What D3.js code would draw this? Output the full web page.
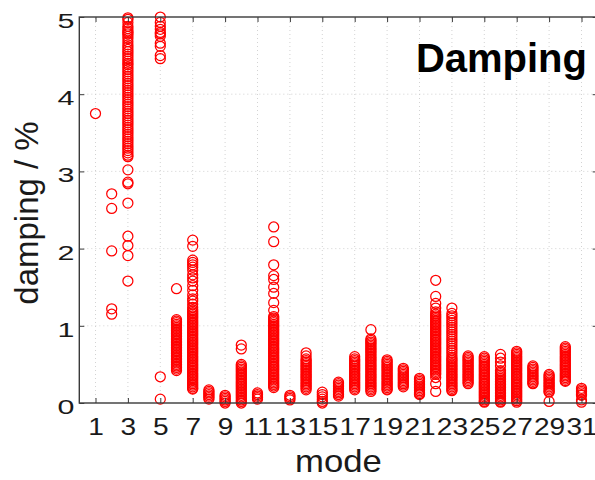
<!DOCTYPE html>
<html>
<head>
<meta charset="utf-8">
<script src="https://cdn.jsdelivr.net/npm/d3@7"></script>
<style>
  body { margin: 0; background: #fff; }
  svg { display: block; font-family: "Liberation Sans", Arial, sans-serif; }
</style>
</head>
<body>
<svg id="chart" width="595" height="480"></svg>
<script>
// mode numbers and the damping estimates (%) read off for each mode
var modes = [1, 2, 3, 4, 5, 6, 7, 8, 9, 10, 11, 12, 13, 14, 15, 16,
             17, 18, 19, 20, 21, 22, 23, 24, 25, 26, 27, 28, 29, 30, 31];

var dampingByMode = [
    [3.75],
    [2.71, 2.52, 1.97, 1.22, 1.15],
    [4.99, 4.97, 4.93, 4.88, 4.85, 4.82, 4.80, 4.78, 4.75, 4.72, 4.68, 4.64, 4.61, 4.58, 4.55,
     4.52, 4.49, 4.46, 4.43, 4.40, 4.38, 4.35, 4.32, 4.29, 4.26, 4.23, 4.20, 4.17, 4.14, 4.11,
     4.08, 4.05, 4.02, 3.99, 3.96, 3.93, 3.90, 3.87, 3.84, 3.81, 3.78, 3.75, 3.72, 3.69, 3.66,
     3.63, 3.60, 3.57, 3.54, 3.51, 3.48, 3.45, 3.42, 3.39, 3.36, 3.33, 3.30, 3.27, 3.24, 3.21,
     3.19, 3.02, 2.86, 2.84, 2.59, 2.16, 2.04, 1.91, 1.58],
    [],
    [5.00, 4.93, 4.88, 4.84, 4.80, 4.78, 4.75, 4.66, 4.62, 4.50, 4.46, 0.34, 0.05],
    [1.48, 1.08, 1.06, 1.04, 1.02, 1.00, 0.98, 0.96, 0.94, 0.92, 0.90, 0.88, 0.86, 0.84, 0.82,
     0.80, 0.78, 0.76, 0.74, 0.72, 0.70, 0.68, 0.66, 0.64, 0.62, 0.60, 0.58, 0.56, 0.54, 0.52,
     0.50, 0.48, 0.46, 0.44, 0.42],
    [2.11, 2.03, 1.85, 1.82, 1.79, 1.76, 1.72, 1.66, 1.62, 1.58, 1.52, 1.46, 1.40, 1.35, 1.32,
     1.28, 1.24, 1.21, 1.19, 1.17, 1.15, 1.13, 1.11, 1.09, 1.07, 1.05, 1.03, 1.01, 0.99, 0.97,
     0.95, 0.93, 0.91, 0.89, 0.87, 0.85, 0.83, 0.81, 0.79, 0.77, 0.75, 0.73, 0.71, 0.69, 0.67,
     0.65, 0.63, 0.61, 0.59, 0.57, 0.55, 0.53, 0.51, 0.49, 0.47, 0.45, 0.43, 0.41, 0.39, 0.37,
     0.35, 0.33, 0.31, 0.29, 0.27, 0.25, 0.23, 0.21, 0.19, 0.18],
    [0.17, 0.15, 0.13, 0.11, 0.09, 0.07, 0.05],
    [0.10, 0.08, 0.06, 0.04, 0.02, 0.00],
    [0.75, 0.70, 0.50, 0.48, 0.46, 0.44, 0.42, 0.40, 0.38, 0.36, 0.34, 0.32, 0.30, 0.28, 0.26,
     0.24, 0.22, 0.20, 0.18, 0.16, 0.14, 0.12, 0.10, 0.08, 0.06, 0.04, 0.02, 0.00],
    [0.13, 0.11, 0.09, 0.07, 0.05],
    [2.28, 2.09, 1.79, 1.65, 1.60, 1.50, 1.42, 1.30, 1.20, 1.12, 1.10, 1.08, 1.06, 1.04, 1.02,
     1.00, 0.98, 0.96, 0.94, 0.92, 0.90, 0.88, 0.86, 0.84, 0.82, 0.80, 0.78, 0.76, 0.74, 0.72,
     0.70, 0.68, 0.66, 0.64, 0.62, 0.60, 0.58, 0.56, 0.54, 0.52, 0.50, 0.48, 0.46, 0.44, 0.42,
     0.40, 0.38, 0.36, 0.34, 0.32, 0.30, 0.28, 0.26, 0.24, 0.22, 0.20],
    [0.10, 0.08, 0.06, 0.04],
    [0.65, 0.61, 0.57, 0.55, 0.53, 0.51, 0.49, 0.47, 0.45, 0.43, 0.41, 0.39, 0.37, 0.35, 0.33,
     0.31, 0.29, 0.27, 0.25, 0.23, 0.21, 0.19, 0.17],
    [0.14, 0.11, 0.08, 0.05, 0.02, 0.00],
    [0.27, 0.25, 0.23, 0.21, 0.19, 0.17, 0.15, 0.13, 0.11, 0.09],
    [0.60, 0.57, 0.55, 0.53, 0.51, 0.49, 0.47, 0.45, 0.43, 0.41, 0.39, 0.37, 0.35, 0.33, 0.31,
     0.29, 0.27, 0.25, 0.23, 0.21, 0.19, 0.17],
    [0.95, 0.83, 0.81, 0.79, 0.77, 0.75, 0.73, 0.71, 0.69, 0.67, 0.65, 0.63, 0.61, 0.59, 0.57,
     0.55, 0.53, 0.51, 0.49, 0.47, 0.45, 0.43, 0.41, 0.39, 0.37, 0.35, 0.33, 0.31, 0.29, 0.27,
     0.25, 0.23, 0.21, 0.19, 0.17, 0.15],
    [0.56, 0.54, 0.52, 0.50, 0.48, 0.46, 0.44, 0.42, 0.40, 0.38, 0.36, 0.34, 0.32, 0.30, 0.28,
     0.26, 0.24, 0.22, 0.20, 0.18, 0.17],
    [0.45, 0.43, 0.41, 0.39, 0.37, 0.35, 0.33, 0.31, 0.29, 0.27, 0.25, 0.23, 0.21],
    [0.32, 0.30, 0.28, 0.26, 0.24, 0.22, 0.20, 0.18, 0.16, 0.14, 0.12, 0.11],
    [1.59, 1.38, 1.29, 1.23, 1.18, 1.15, 1.13, 1.11, 1.09, 1.07, 1.05, 1.03, 1.01, 0.99, 0.97,
     0.95, 0.93, 0.91, 0.89, 0.87, 0.85, 0.83, 0.81, 0.79, 0.77, 0.75, 0.73, 0.71, 0.69, 0.67,
     0.65, 0.63, 0.61, 0.59, 0.57, 0.55, 0.53, 0.51, 0.49, 0.47, 0.45, 0.43, 0.41, 0.39, 0.37,
     0.33, 0.25, 0.15],
    [1.23, 1.16, 1.13, 1.10, 1.07, 1.04, 1.01, 0.98, 0.95, 0.92, 0.89, 0.86, 0.83, 0.80, 0.77,
     0.74, 0.71, 0.68, 0.65, 0.62, 0.59, 0.57, 0.55, 0.53, 0.51, 0.49, 0.47, 0.45, 0.43, 0.41,
     0.39, 0.37, 0.35, 0.33, 0.31, 0.29, 0.27, 0.25, 0.23, 0.21, 0.19, 0.17, 0.16],
    [0.61, 0.59, 0.57, 0.55, 0.53, 0.51, 0.49, 0.47, 0.45, 0.43, 0.41, 0.39, 0.37, 0.35, 0.33,
     0.31, 0.29, 0.27, 0.25],
    [0.60, 0.58, 0.56, 0.54, 0.52, 0.50, 0.48, 0.46, 0.44, 0.42, 0.40, 0.38, 0.36, 0.34, 0.32,
     0.30, 0.28, 0.26, 0.24, 0.22, 0.20, 0.18, 0.16, 0.14, 0.12, 0.10, 0.08, 0.06, 0.04, 0.02,
     0.01],
    [0.63, 0.58, 0.53, 0.48, 0.42, 0.40, 0.38, 0.36, 0.34, 0.32, 0.30, 0.28, 0.26, 0.24, 0.22,
     0.20, 0.18, 0.16, 0.14, 0.12, 0.10, 0.08, 0.06, 0.04, 0.02, 0.01],
    [0.67, 0.65, 0.63, 0.61, 0.59, 0.57, 0.55, 0.53, 0.51, 0.49, 0.47, 0.45, 0.43, 0.41, 0.39,
     0.37, 0.35, 0.33, 0.31, 0.29, 0.27, 0.25, 0.23, 0.21, 0.19, 0.17, 0.15, 0.13, 0.11, 0.09,
     0.07, 0.05, 0.03, 0.01],
    [0.48, 0.46, 0.44, 0.42, 0.40, 0.38, 0.36, 0.34, 0.32, 0.30, 0.28, 0.26, 0.25],
    [0.37, 0.35, 0.33, 0.31, 0.29, 0.27, 0.25, 0.23, 0.21, 0.19, 0.17, 0.15, 0.14, 0.02],
    [0.73, 0.71, 0.69, 0.67, 0.65, 0.63, 0.61, 0.59, 0.57, 0.55, 0.53, 0.51, 0.49, 0.47, 0.45,
     0.43, 0.41, 0.39, 0.37, 0.35, 0.33, 0.31, 0.29, 0.28],
    [0.19, 0.17, 0.15, 0.13, 0.11, 0.10, 0.04, 0.01]
];

var xTicks = [1, 3, 5, 7, 9, 11, 13, 15, 17, 19, 21, 23, 25, 27, 29, 31];
var yTicks = [0, 1, 2, 3, 4, 5];


var svg = d3.select("#chart");

var xScale = d3.scaleLinear().domain([0, 32]).range([79.3, 597.7]);
var yScale = d3.scaleLinear().domain([0, 5]).range([403, 17]);

var points = [];
modes.forEach(function (m, i) {
    dampingByMode[i].forEach(function (v) {
        points.push({ mode: m, damping: v });
    });
});

// dotted grid
var grid = svg.append("g").attr("class", "grid");
grid.selectAll("line.vgrid")
    .data(xTicks)
    .enter()
    .append("line")
    .attr("x1", function (d) { return xScale(d); })
    .attr("x2", function (d) { return xScale(d); })
    .attr("y1", yScale(0))
    .attr("y2", yScale(5))
    .attr("stroke", "#c8c8c8")
    .attr("stroke-width", 0.8)
    .attr("stroke-dasharray", "1,3");

grid.selectAll("line.hgrid")
    .data(yTicks.slice(1, 5))
    .enter()
    .append("line")
    .attr("x1", xScale(0))
    .attr("x2", xScale(32))
    .attr("y1", function (d) { return yScale(d); })
    .attr("y2", function (d) { return yScale(d); })
    .attr("stroke", "#c8c8c8")
    .attr("stroke-width", 0.8)
    .attr("stroke-dasharray", "1,3");

// the measured points
svg.append("g")
    .selectAll("circle")
    .data(points)
    .enter()
    .append("circle")
    .attr("cx", function (d) { return xScale(d.mode); })
    .attr("cy", function (d) { return yScale(d.damping); })
    .attr("r", 5)
    .attr("fill", "none")
    .attr("stroke", "#ff0000")
    .attr("stroke-width", 1.25);

// axes box
svg.append("rect")
    .attr("x", xScale(0))
    .attr("y", yScale(5))
    .attr("width", xScale(32) - xScale(0))
    .attr("height", yScale(0) - yScale(5))
    .attr("fill", "none")
    .attr("stroke", "#3a3a3a")
    .attr("stroke-width", 1.4);

var xAxis = svg.append("g")
    .attr("transform", "translate(0," + yScale(0) + ")")
    .call(d3.axisBottom(xScale).tickValues(xTicks).tickSize(-5).tickFormat(d3.format("d")));

var xTop = svg.append("g")
    .attr("transform", "translate(0," + yScale(5) + ")")
    .call(d3.axisTop(xScale).tickValues(xTicks).tickSize(-5).tickFormat(""));

var yAxis = svg.append("g")
    .attr("transform", "translate(" + xScale(0) + ",0)")
    .call(d3.axisLeft(yScale).tickValues(yTicks).tickSize(-5).tickFormat(d3.format("d")));

var yRight = svg.append("g")
    .attr("transform", "translate(" + xScale(32) + ",0)")
    .call(d3.axisRight(yScale).tickValues(yTicks).tickSize(-5).tickFormat(""));

[xAxis, xTop, yAxis, yRight].forEach(function (a) {
    a.select(".domain").remove();
    a.selectAll(".tick line").attr("stroke", "#3a3a3a").attr("stroke-width", 1);
});

xAxis.selectAll(".tick text")
    .attr("y", 32)
    .attr("dy", null)
    .attr("font-size", 24)
    .attr("fill", "#1a1a1a")
    .attr("font-family", "Liberation Sans, Arial, sans-serif")
    .attr("transform", "scale(1.17,1)");

yAxis.selectAll(".tick text")
    .attr("x", -5 / 1.45)
    .attr("y", 10.5)
    .attr("dy", null)
    .attr("font-size", 21)
    .attr("fill", "#1a1a1a")
    .attr("font-family", "Liberation Sans, Arial, sans-serif")
    .attr("transform", "scale(1.45,1)");

// axis titles
svg.append("text")
    .attr("transform", "translate(" + xScale(16) + ",472) scale(1.12,1)")
    .attr("text-anchor", "middle")
    .attr("font-size", 31)
    .attr("fill", "#1a1a1a")
    .text("mode");

svg.append("text")
    .attr("transform", "translate(38," + (yScale(2.5) + 3) + ") rotate(-90)")
    .attr("text-anchor", "middle")
    .attr("font-size", 33)
    .attr("fill", "#1a1a1a")
    .text("damping / %");

svg.append("text")
    .attr("x", 587)
    .attr("y", 72)
    .attr("text-anchor", "end")
    .attr("font-size", 40)
    .attr("font-weight", "bold")
    .attr("fill", "#000")
    .text("Damping");
</script>
</body>
</html>
